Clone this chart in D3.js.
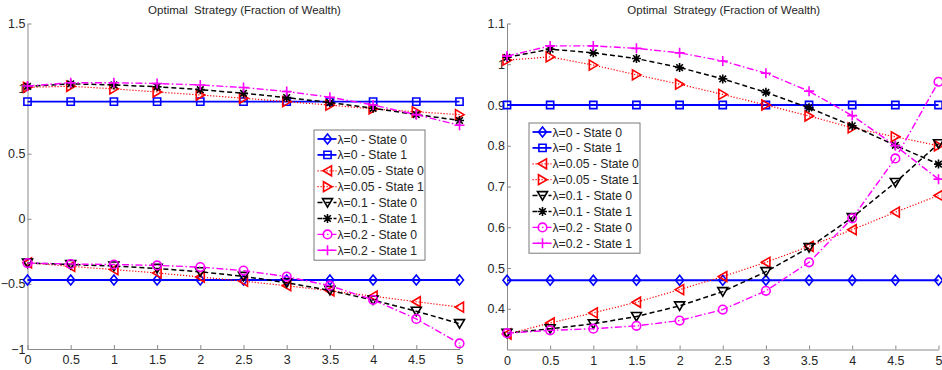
<!DOCTYPE html>
<html>
<head>
<meta charset="utf-8">
<script src="https://cdn.jsdelivr.net/npm/d3@7/dist/d3.min.js"></script>
<style>
  html, body { margin: 0; padding: 0; background: #fff; }
  svg { display: block; font-family: "Liberation Sans", Arial, sans-serif; }
</style>
</head>
<body>
<svg id="chart" width="942" height="370"></svg>
<script>
// Wealth grid
const wealth = [0, 0.5, 1, 1.5, 2, 2.5, 3, 3.5, 4, 4.5, 5];

// Optimal fraction of wealth per jump intensity and regime (state 0 negative, state 1 positive)
const lam0State0  = [-0.47, -0.47, -0.47, -0.47, -0.47, -0.47, -0.47, -0.47, -0.47, -0.47, -0.47];
const lam0State1  = [0.90, 0.90, 0.90, 0.90, 0.90, 0.90, 0.90, 0.90, 0.90, 0.90, 0.90];
const lam05State0 = [-0.338, -0.365, -0.390, -0.416, -0.447, -0.479, -0.514, -0.553, -0.594, -0.637, -0.678];
const lam05State1 = [1.010, 1.018, 0.998, 0.974, 0.951, 0.926, 0.900, 0.873, 0.844, 0.822, 0.800];
const lam1State0  = [-0.340, -0.351, -0.363, -0.381, -0.407, -0.442, -0.491, -0.550, -0.624, -0.710, -0.805];
const lam1State1  = [1.017, 1.037, 1.028, 1.014, 0.992, 0.964, 0.931, 0.893, 0.849, 0.801, 0.755];
const lam2State0  = [-0.340, -0.347, -0.351, -0.358, -0.371, -0.398, -0.444, -0.514, -0.622, -0.769, -0.957];
const lam2State1  = [1.020, 1.045, 1.045, 1.039, 1.028, 1.008, 0.978, 0.934, 0.874, 0.800, 0.718];

const xTicks = [0, 0.5, 1, 1.5, 2, 2.5, 3, 3.5, 4, 4.5, 5];
const leftYTicks = [-1, -0.5, 0, 0.5, 1, 1.5];
const rightYTicks = [0.4, 0.5, 0.6, 0.7, 0.8, 0.9, 1.0, 1.1];
const titleText = "Optimal\u00a0 Strategy (Fraction of Wealth)";

const seriesLabels = [
  "\u03bb=0 - State 0", "\u03bb=0 - State 1",
  "\u03bb=0.05 - State 0", "\u03bb=0.05 - State 1",
  "\u03bb=0.1 - State 0", "\u03bb=0.1 - State 1",
  "\u03bb=0.2 - State 0", "\u03bb=0.2 - State 1"
];
const seriesValues = [lam0State0, lam0State1, lam05State0, lam05State1,
                      lam1State0, lam1State1, lam2State0, lam2State1];

// line / marker styles per series
const styles = [
  {color: "#0000ff", dash: null,            width: 1.8, marker: "diamond"},
  {color: "#0000ff", dash: null,            width: 1.8, marker: "square"},
  {color: "#ff0000", dash: "1.2,1.8",       width: 1.2, marker: "triLeft"},
  {color: "#ff0000", dash: "1.2,1.8",       width: 1.2, marker: "triRight"},
  {color: "#000000", dash: "5,3",           width: 1.5, marker: "triDown"},
  {color: "#000000", dash: "5,3",           width: 1.5, marker: "star"},
  {color: "#ff00ff", dash: "7,2.5,1.5,2.5", width: 1.4, marker: "circle"},
  {color: "#ff00ff", dash: "7,2.5,1.5,2.5", width: 1.4, marker: "plus"}
];

// marker path generators, centred at the origin
function markerPath(kind) {
  switch (kind) {
    case "diamond":  return "M0,-5L4,0L0,5L-4,0Z";
    case "square":   return "M-3.6,-3.6H3.6V3.6H-3.6Z";
    case "triLeft":  return "M-4.5,0L4,-5L4,5Z";
    case "triRight": return "M4.5,0L-4,-5L-4,5Z";
    case "triDown":  return "M0,4.5L-5,-4L5,-4Z";
    case "circle":   return "M4.3,0A4.3,4.3 0 1,1 -4.3,0A4.3,4.3 0 1,1 4.3,0Z";
    case "plus":     return "M-5,0H5M0,-5V5";
    case "star":     return "M-4.5,0H4.5M0,-4.5V4.5M-3.3,-3.3L3.3,3.3M-3.3,3.3L3.3,-3.3";
  }
}

const svg = d3.select("#chart");
const axisColor = "#8a8a8a";
const textColor = "#262626";

function drawPanel(cfg) {
  const g = svg.append("g");
  const x = d3.scaleLinear().domain([0, 5]).range([cfg.x0, cfg.x1]);
  const y = d3.scaleLinear().domain(cfg.yDomain).range([cfg.y1, cfg.y0]);

  // title
  g.append("text")
    .attr("x", (cfg.x0 + cfg.x1) / 2 + 1)
    .attr("y", 14)
    .attr("text-anchor", "middle")
    .attr("font-size", 11.5)
    .attr("fill", textColor)
    .text(titleText);

  // axes with inward ticks
  const xAxis = d3.axisBottom(x).tickValues(xTicks).tickFormat(d3.format("")).tickSizeInner(-4).tickSizeOuter(0).tickPadding(5);
  const yAxis = d3.axisLeft(y).tickValues(cfg.yTicks).tickFormat(d3.format("")).tickSizeInner(-4).tickSizeOuter(0).tickPadding(2);

  const gx = g.append("g").attr("transform", `translate(0,${cfg.y1})`).call(xAxis);
  const gy = g.append("g").attr("transform", `translate(${cfg.x0},0)`).call(yAxis);
  [gx, gy].forEach(a => {
    a.select(".domain").attr("stroke", axisColor).attr("stroke-width", 1);
    a.selectAll(".tick line").attr("stroke", axisColor);
    a.selectAll(".tick text").attr("fill", textColor).attr("font-size", 12.5)
      .attr("font-family", "Liberation Sans, Arial, sans-serif");
  });
  gx.selectAll(".tick text").attr("dy", "0.8em");

  // series
  const plot = g.append("g");
  seriesValues.forEach((vals, i) => {
    const st = styles[i];
    const pts = wealth.map((w, k) => [x(w), y(cfg.transform(vals[k]))]);
    plot.append("path")
      .attr("d", d3.line()(pts))
      .attr("fill", "none")
      .attr("stroke", st.color)
      .attr("stroke-width", st.width)
      .attr("stroke-dasharray", st.dash);
    plot.selectAll(null).data(pts).enter().append("path")
      .attr("transform", p => `translate(${p[0]},${p[1]})`)
      .attr("d", markerPath(st.marker))
      .attr("fill", "none")
      .attr("stroke", st.color)
      .attr("stroke-width", 1.6);
  });

  // legend
  const lg = g.append("g").attr("transform", `translate(${cfg.legend[0]},${cfg.legend[1]})`);
  const lw = 111, rowH = 15.9, lh = rowH * 8 + 3;
  lg.append("rect").attr("x", 0.5).attr("y", 0.5).attr("width", lw).attr("height", lh)
    .attr("fill", "#fff").attr("stroke", "#7a7a7a").attr("stroke-width", 1);
  seriesLabels.forEach((lab, i) => {
    const st = styles[i];
    const cy = 9.5 + i * rowH;
    lg.append("line").attr("x1", 4).attr("x2", 23).attr("y1", cy).attr("y2", cy)
      .attr("stroke", st.color).attr("stroke-width", st.width).attr("stroke-dasharray", st.dash);
    lg.append("path").attr("transform", `translate(14,${cy})`).attr("d", markerPath(st.marker))
      .attr("fill", "none").attr("stroke", st.color).attr("stroke-width", 1.6);
    lg.append("text").attr("x", 24).attr("y", cy + 4.5).attr("font-size", 12.2)
      .attr("fill", textColor).text(lab);
  });
}

// left: signed strategies
drawPanel({
  x0: 27.5, x1: 459.5, y0: 23.5, y1: 349,
  yDomain: [-1, 1.5], yTicks: leftYTicks,
  transform: v => v,
  legend: [313.5, 129.5]
});

// right: magnitudes of the strategies
drawPanel({
  x0: 507, x1: 938.5, y0: 23.5, y1: 349.5,
  yDomain: [0.3, 1.1], yTicks: rightYTicks,
  transform: v => Math.abs(v),
  legend: [528.5, 122.5]
});
</script>
</body>
</html>
